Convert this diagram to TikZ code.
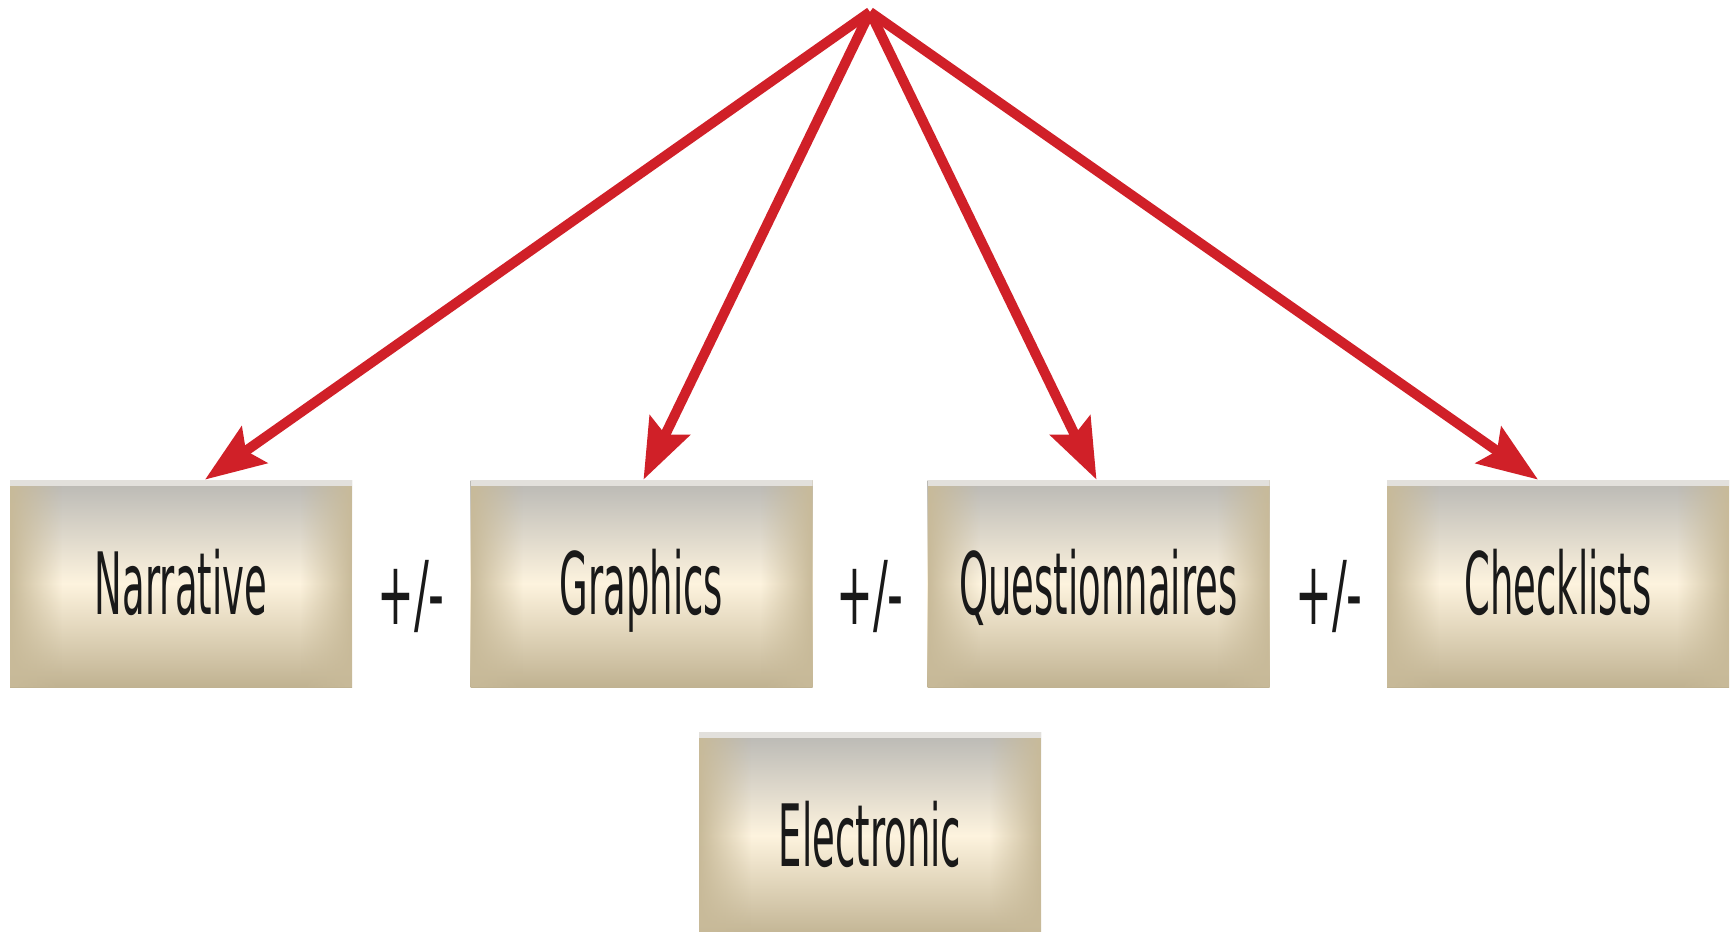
\documentclass[tikz,border=0pt]{standalone}
\usepackage{fontspec}
\newfontfamily\cond[FakeStretch=0.43]{DejaVu Sans}
\newfontfamily\condb[FakeStretch=0.5]{DejaVu Sans}
\usetikzlibrary{arrows.meta,fadings}
\definecolor{arrowred}{HTML}{D02028}
\definecolor{boxtop}{HTML}{B9B8B4}
\definecolor{boxmid}{HTML}{FDF3DE}
\definecolor{boxbot}{HTML}{C0B291}
\definecolor{boxside}{HTML}{C8BA99}
\definecolor{boxrim}{HTML}{E2E0DC}
\tikzfading[name=fadeR, left color=transparent!0, right color=transparent!100]
\tikzfading[name=fadeL, left color=transparent!100, right color=transparent!0]
\tikzset{
  boxy/.style={minimum width=171pt, minimum height=103.5pt, inner sep=0pt,
    text height=31pt, text depth=0pt,
    font=\cond\fontsize{43}{46}\selectfont, text=black!90,
    path picture={
      \shade[top color=boxtop, bottom color=boxbot, middle color=boxmid]
        (path picture bounding box.south west) rectangle (path picture bounding box.north east);
      \fill[boxside, path fading=fadeR]
        (path picture bounding box.south west) rectangle ([xshift=26pt]path picture bounding box.north west);
      \fill[boxside, path fading=fadeL]
        ([xshift=-26pt]path picture bounding box.south east) rectangle (path picture bounding box.north east);
      \fill[boxrim]
        ([yshift=-3pt]path picture bounding box.north west) rectangle (path picture bounding box.north east);
    }},
  sep/.style={font=\condb\fontsize{44}{46}\selectfont, text=black!90, inner sep=0pt},
  redarrow/.style={draw=arrowred, line width=5pt,
    -{Stealth[length=30pt, width=22pt, inset=5pt]}}
}
\begin{document}
\begin{tikzpicture}[x=0.5pt,y=-0.5pt]
\useasboundingbox (0,0) rectangle (1732,931);
\fill[white] (0,0) rectangle (1732,931);
\node[boxy] (narr) at (181,583.5) {Narrative};
\node[boxy] (graph) at (641.5,583.5) {Graphics};
\node[boxy] (quest) at (1098.5,583.5) {Questionnaires};
\node[boxy] (check) at (1558,583.5) {Checklists};
\node[boxy] (elec) at (870,835.5) {Electronic};
\node[sep] (pm1) at (411,596) {+/-};
\node[sep] (pm2) at (870,596) {+/-};
\node[sep] (pm3) at (1329,596) {+/-};
\coordinate (apex) at (870,12);
\draw[redarrow] (apex) -- ([xshift=12pt]narr.north);
\draw[redarrow] (apex) -- ([xshift=1pt]graph.north);
\draw[redarrow] (apex) -- ([xshift=-1pt]quest.north);
\draw[redarrow] (apex) -- ([xshift=-10pt]check.north);
\end{tikzpicture}
\end{document}
